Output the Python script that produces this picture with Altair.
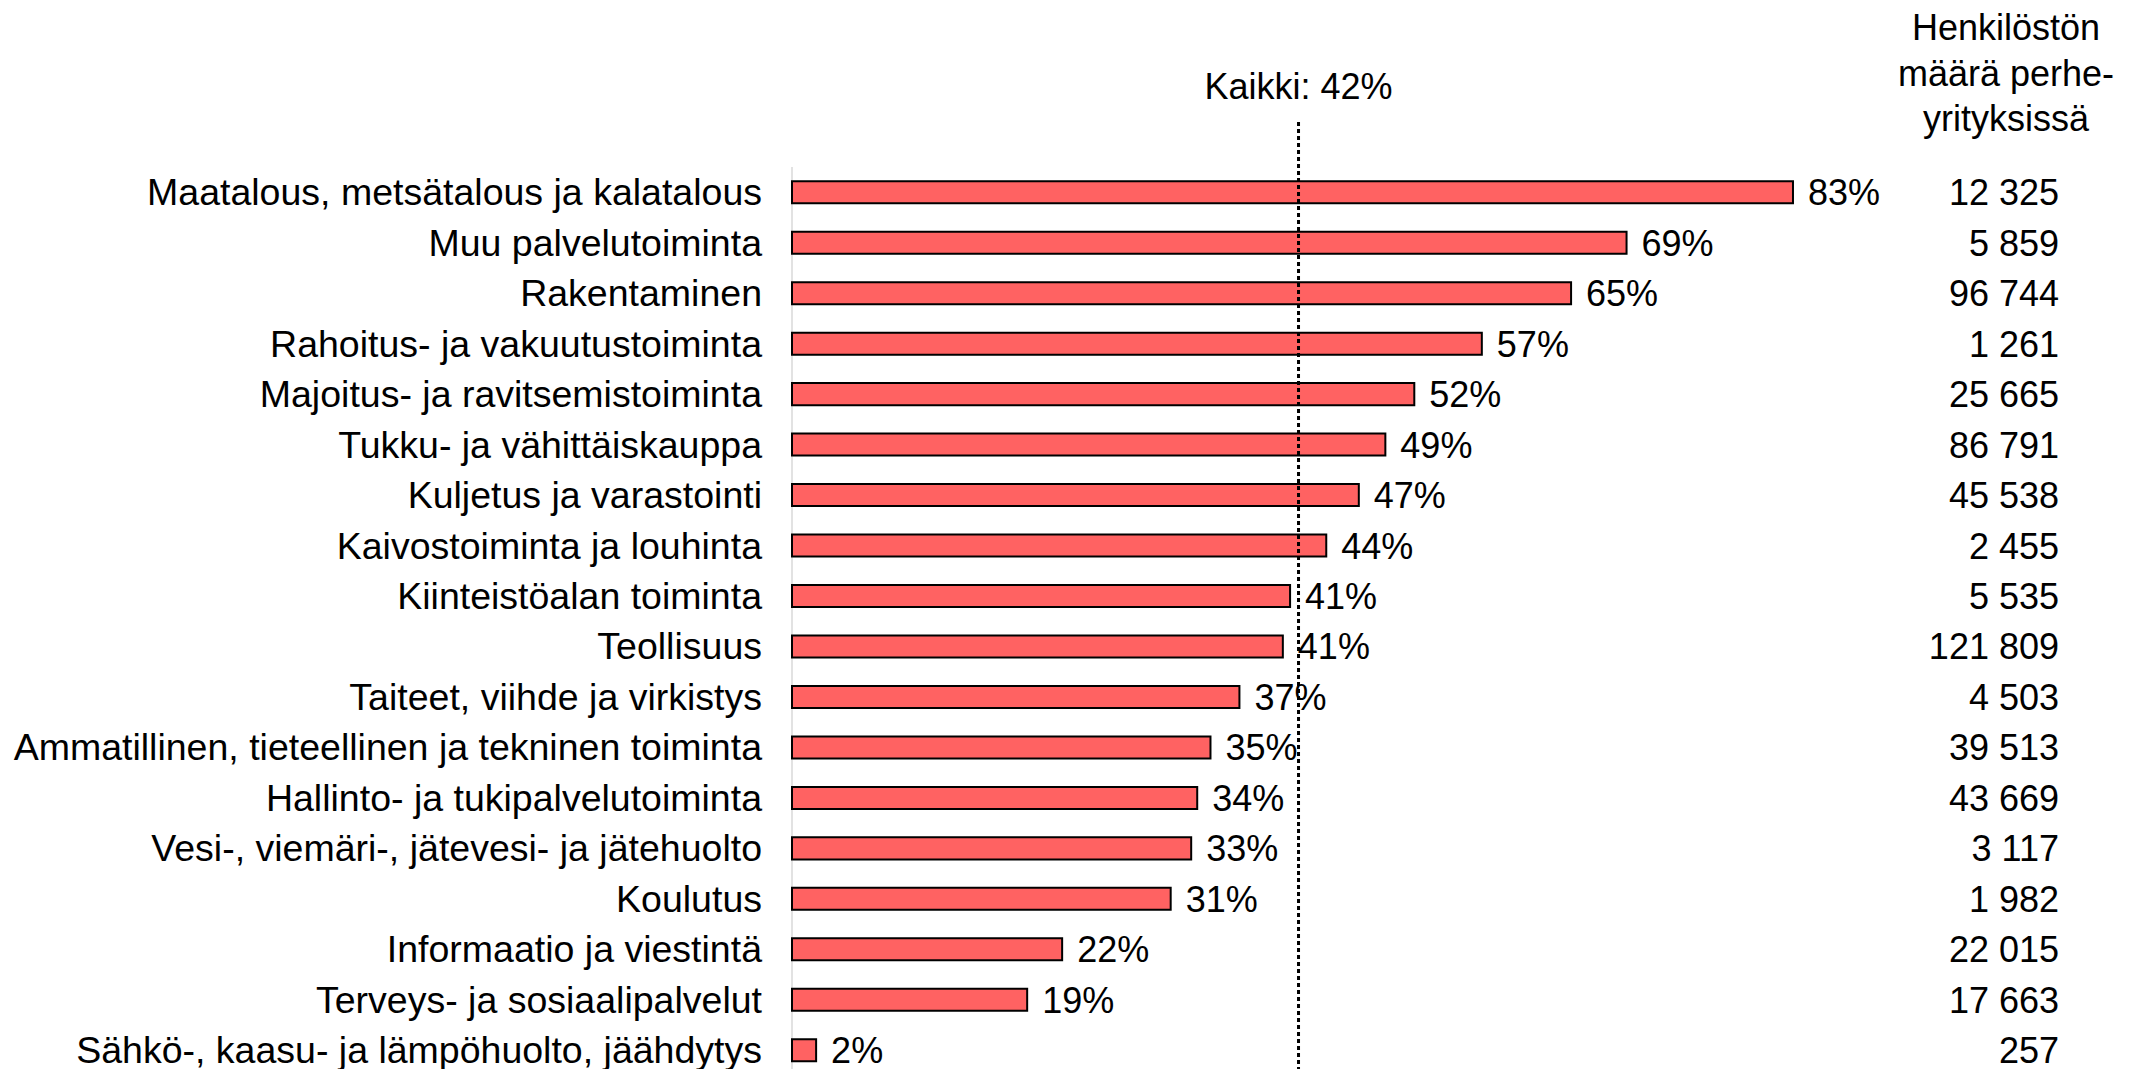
import altair as alt
import pandas as pd

categories = [
    "Maatalous, metsätalous ja kalatalous",
    "Muu palvelutoiminta",
    "Rakentaminen",
    "Rahoitus- ja vakuutustoiminta",
    "Majoitus- ja ravitsemistoiminta",
    "Tukku- ja vähittäiskauppa",
    "Kuljetus ja varastointi",
    "Kaivostoiminta ja louhinta",
    "Kiinteistöalan toiminta",
    "Teollisuus",
    "Taiteet, viihde ja virkistys",
    "Ammatillinen, tieteellinen ja tekninen toiminta",
    "Hallinto- ja tukipalvelutoiminta",
    "Vesi-, viemäri-, jätevesi- ja jätehuolto",
    "Koulutus",
    "Informaatio ja viestintä",
    "Terveys- ja sosiaalipalvelut",
    "Sähkö-, kaasu- ja lämpöhuolto, jäähdytys",
]
shares = [83.0, 69.2, 64.6, 57.2, 51.6, 49.2, 47.0, 44.3, 41.3, 40.7,
          37.1, 34.7, 33.6, 33.1, 31.4, 22.4, 19.5, 2.0]
share_labels = ["83%", "69%", "65%", "57%", "52%", "49%", "47%", "44%", "41%",
                "41%", "37%", "35%", "34%", "33%", "31%", "22%", "19%", "2%"]
staff = ["12 325", "5 859", "96 744", "1 261", "25 665", "86 791", "45 538",
         "2 455", "5 535", "121 809", "4 503", "39 513", "43 669", "3 117",
         "1 982", "22 015", "17 663", "257"]
overall = [42]
overall_label = ["Kaikki: 42%"]
header = ["Henkilöstön", "määrä perhe-", "yrityksissä"]

FONT = "Liberation Sans"

df = pd.DataFrame({"category": categories, "share": shares,
                   "label": share_labels, "staff": staff})
odf = pd.DataFrame({"overall": overall, "label": overall_label})

xscale = alt.Scale(domain=[0, 100], nice=False, zero=True)
yenc = alt.Y("category:N", sort=categories, axis=None,
             scale=alt.Scale(range=[0, 908.5], paddingInner=0.564, paddingOuter=0.282))

base = alt.Chart(df)

bars = base.mark_bar(fill="#FF6262", stroke="black", strokeWidth=2).encode(
    x=alt.X("share:Q", scale=xscale, axis=None), y=yenc)

pct = base.mark_text(align="left", baseline="middle", dx=15, dy=2,
                     fontSize=36, font=FONT, color="black").encode(
    x=alt.X("share:Q", scale=xscale, axis=None), y=yenc, text="label:N")

cats = base.mark_text(align="right", baseline="middle", dy=2,
                      fontSize=37.5, font=FONT, color="black").encode(
    x=alt.value(-30), y=yenc, text="category:N")

nums = base.mark_text(align="right", baseline="middle", dy=2,
                      fontSize=36, font=FONT, color="black").encode(
    x=alt.value(1267), y=yenc, text="staff:N")

obase = alt.Chart(odf)

axisline = obase.mark_rule(color="#d9d9d9", strokeWidth=1.5).encode(
    x=alt.value(0), y=alt.value(0), y2=alt.value(920))

dotted = obase.mark_rule(color="black", strokeWidth=3, strokeDash=[4, 3]).encode(
    x=alt.X("overall:Q", scale=xscale, axis=None),
    y=alt.value(-45), y2=alt.value(920))

kaikki = obase.mark_text(align="center", baseline="alphabetic", fontSize=36,
                         font=FONT, color="black").encode(
    x=alt.X("overall:Q", scale=xscale, axis=None),
    y=alt.value(-68), text="label:N")

head = obase.mark_text(text=header, lineHeight=45.5, align="center",
                       baseline="alphabetic", fontSize=36, font=FONT,
                       color="black").encode(
    x=alt.value(1214), y=alt.value(-127))

chart = alt.layer(axisline, bars, dotted, pct, cats, nums, kaikki, head).properties(
    width=1206, height=894,
    autosize=alt.AutoSizeParams(type="none"),
    padding={"left": 784, "top": 159, "right": 135, "bottom": 14},
).configure_view(stroke=None)

chart.save("out.html", embed_options={"renderer": "svg", "actions": False})
